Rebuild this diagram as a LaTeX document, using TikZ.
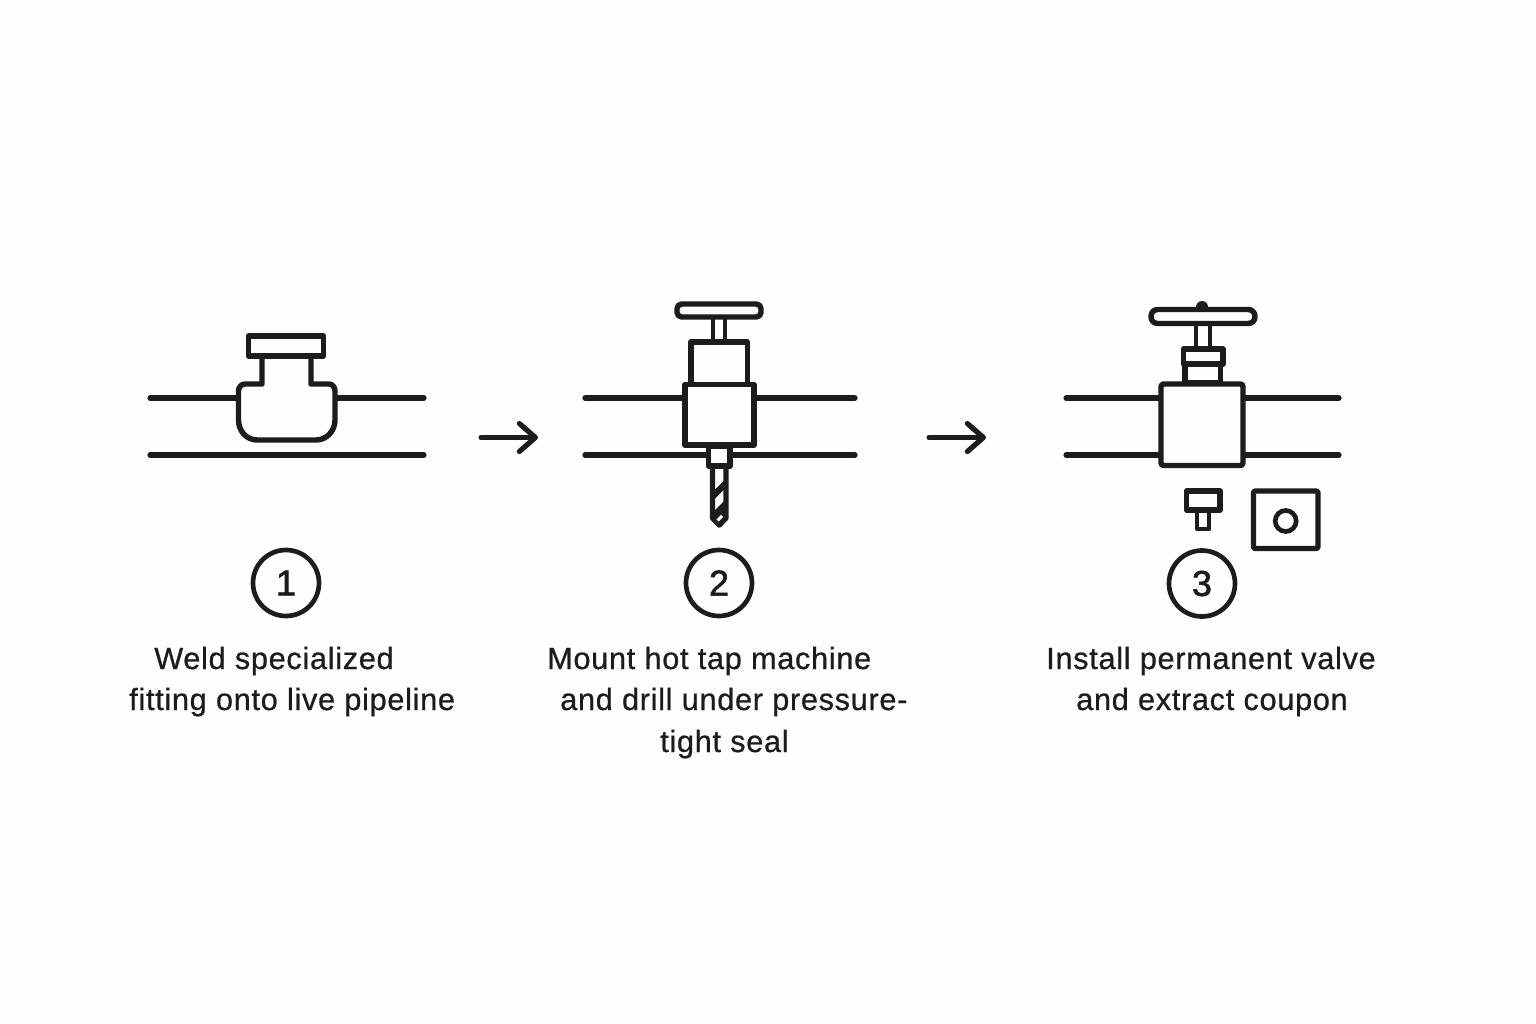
\documentclass[tikz,border=0pt]{standalone}
\usepackage{fontspec}
\setmainfont{Liberation Sans}
\newfontfamily\capfont[LetterSpace=2.3,FakeBold=0.7]{Liberation Sans}
\newfontfamily\numfont[FakeBold=1.6]{Liberation Sans}
\usetikzlibrary{arrows.meta}
\definecolor{ink}{HTML}{1C1C1C}
\definecolor{paper}{HTML}{FEFEFE}
\tikzset{
  pipe/.style={draw=ink,line width=3.9pt,line cap=round},
  part/.style={draw=ink,line width=4.1pt,line join=round,fill=paper},
  thin part/.style={draw=ink,line width=3.6pt,line join=round,fill=paper},
  badge/.style={circle,draw=ink,line width=3.5pt,minimum size=49.5pt,inner sep=0pt,font=\numfont\fontsize{27}{30}\selectfont,text=ink},
  caption/.style={anchor=base west,inner sep=0pt,font=\capfont\fontsize{23}{27}\selectfont,text=ink},
  flow/.style={draw=ink,line width=3.9pt,line cap=round,-{Straight Barb[length=12pt,width=21pt,round,line width=3.9pt]}},
}
\begin{document}
\begin{tikzpicture}[x=0.75pt,y=-0.75pt]
\useasboundingbox[fill=paper] (0,0) rectangle (1536,1024);
% step 1
\draw[pipe] (150,398) -- (238,398);
\draw[pipe] (336,398) -- (424,398);
\draw[pipe] (150,455) -- (424,455);
\draw[part] (262,358) -- (262,384) -- (245,384) to[out=180,in=90] (238.5,391) -- (238.5,420) to[out=-90,in=180] (257,440) -- (316,440) to[out=0,in=-90] (335,420) -- (335,391) to[out=90,in=0] (329,384) -- (311,384) -- (311,358);
\draw[part] (248.5,336) rectangle (323.5,356);
% step 2
\draw[pipe] (585,398) -- (685,398);
\draw[pipe] (755,398) -- (855,398);
\draw[pipe] (585,455) -- (708,455);
\draw[pipe] (733,455) -- (855,455);
\draw[thin part] (713,316) rectangle (725,342);
\draw[part,rounded corners=3.5pt] (677,304) rectangle (761,317);
\draw[part] (691,342) rectangle (747.5,385);
\draw[part] (685,384.5) rectangle (754,445);
\draw[part] (712.5,466) -- (712.5,518) -- (719.2,525) -- (726,518) -- (726,466);
\fill[ink] (712.5,492) -- (726,478.5) -- (726,487.5) -- (712.5,501) -- cycle;
\fill[ink] (712.5,512.5) -- (726,499) -- (726,518) -- (719.2,525) -- (712.5,518) -- cycle;
\draw[draw=paper,line width=2.2pt] (717.5,520.5) -- (722,516);
\draw[part] (708.5,446) rectangle (730,466);
% step 3
\draw[pipe] (1066,398) -- (1160,398);
\draw[pipe] (1244,398) -- (1339,398);
\draw[pipe] (1066,455) -- (1160,455);
\draw[pipe] (1244,455) -- (1339,455);
\fill[ink] (1202,307) circle (6);
\draw[thin part] (1196,322) rectangle (1210,348);
\draw[part,rounded corners=5pt] (1151,309.5) rectangle (1255,323.5);
\draw[part] (1185,364) rectangle (1220.5,383);
\draw[part] (1183.5,349) rectangle (1223,364);
\draw[part,rounded corners=2pt] (1161,384) rectangle (1243,465.5);
\draw[thin part] (1197,510) rectangle (1209,529);
\draw[part] (1186.5,491) rectangle (1220,510);
\draw[part,rounded corners=1.5pt] (1253.5,491) rectangle (1318,548.5);
\draw[draw=ink,line width=3.5pt] (1285.7,521) circle (10.5);
% badges
\node[badge] (b1) at (286,583) {1};
\node[badge] (b2) at (719,583) {2};
\node[badge] (b3) at (1202,583.5) {3};
% arrows
\coordinate (a1s) at (481,437.5);
\coordinate (a1e) at (538,437.5);
\coordinate (a2s) at (929,437.5);
\coordinate (a2e) at (986,437.5);
\draw[flow] (a1s) -- (a1e);
\draw[flow] (a2s) -- (a2e);
% captions
\node[caption] (t1a) at (154,669) {Weld specialized};
\node[caption] (t1b) at (129,710) {fitting onto live pipeline};
\node[caption] (t2a) at (547,669) {Mount hot tap machine};
\node[caption] (t2b) at (560,710) {and drill under pressure-};
\node[caption] (t2c) at (660,752) {tight seal};
\node[caption] (t3a) at (1046,669) {Install permanent valve};
\node[caption] (t3b) at (1076,710) {and extract coupon};
\end{tikzpicture}
\end{document}
